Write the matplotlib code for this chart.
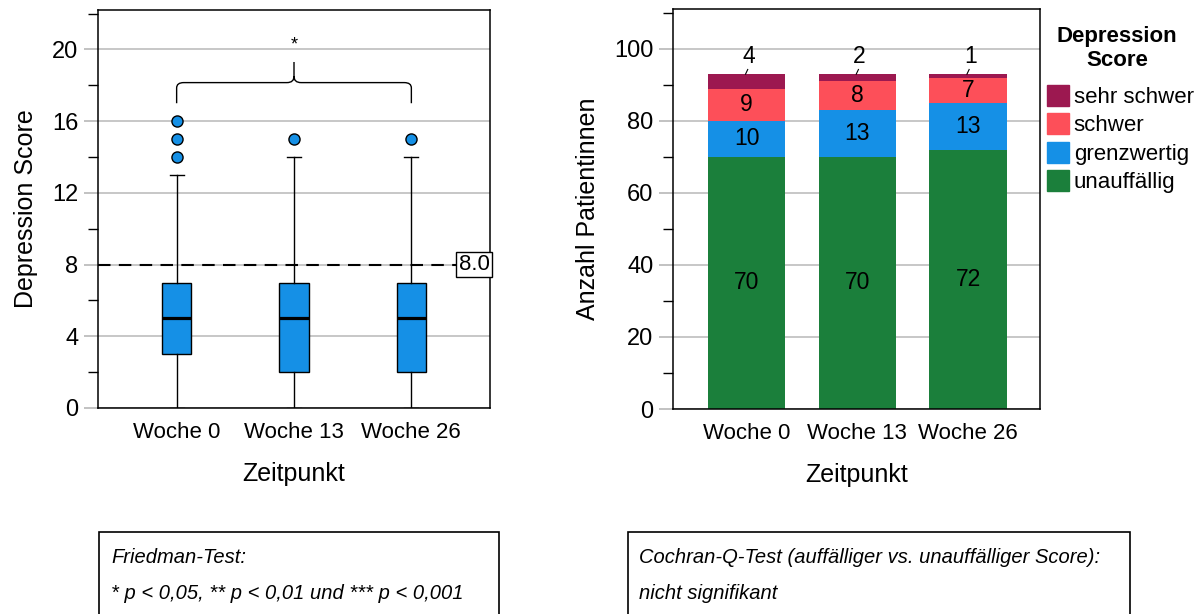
import numpy as np
import matplotlib
matplotlib.use("Agg")
import matplotlib.pyplot as plt
from matplotlib.path import Path
from matplotlib.patches import PathPatch, Rectangle, Patch

plt.rcParams['font.family'] = ['Liberation Sans', 'DejaVu Sans']

# --- data ---
zeitpunkte = ["Woche 0", "Woche 13", "Woche 26"]

# boxplot summary per time point (Depression Score)
q1 = [3, 2, 2]
median = [5, 5, 5]
q3 = [7, 7, 7]
whisker_lo = [0, 0, 0]
whisker_hi = [13, 14, 14]
ausreisser = [[14, 15, 16], [15], [15]]
cutoff = 8.0

# patient counts per category
kategorien = ["unauffällig", "grenzwertig", "schwer", "sehr schwer"]
unauffaellig = [70, 70, 72]
grenzwertig = [10, 13, 13]
schwer = [9, 8, 7]
sehr_schwer = [4, 2, 1]

farben = ["#1b7f3b", "#1590e6", "#fd4f59", "#9c1850"]
box_farbe = "#1590e6"
grid_farbe = "#bdbdbd"

W, H = 1203, 614
fig = plt.figure(figsize=(W / 100, H / 100), dpi=100)


def style_axis(ax, major, minor):
    ax.set_yticks(major)
    ax.set_yticks(minor, minor=True)
    ax.yaxis.grid(True, which='major', color=grid_farbe, lw=1.2)
    ax.set_axisbelow(True)
    ax.tick_params(axis='y', which='major', length=10, width=1.3,
                   color=grid_farbe, labelsize=17, pad=4)
    ax.tick_params(axis='y', which='minor', length=7, width=1, color='black')
    ax.tick_params(axis='x', length=0, labelsize=16, pad=10)
    for s in ax.spines.values():
        s.set_linewidth(1.1)


# --- left: boxplot ---
ax1 = fig.add_axes([98 / W, 1 - 408 / H, 392 / W, 398 / H])
pos = np.arange(1, 4)
stats = []
for i in range(3):
    stats.append(dict(med=median[i], q1=q1[i], q3=q3[i],
                      whislo=whisker_lo[i], whishi=whisker_hi[i],
                      fliers=ausreisser[i], label=zeitpunkte[i]))
ax1.bxp(stats, positions=pos, widths=0.25, capwidths=0.12, patch_artist=True,
        boxprops=dict(facecolor=box_farbe, edgecolor='black', lw=1),
        medianprops=dict(color='black', lw=2.3),
        whiskerprops=dict(color='black', lw=1),
        capprops=dict(color='black', lw=1),
        flierprops=dict(marker='o', markerfacecolor=box_farbe,
                        markeredgecolor='black', markersize=8, mew=1))
ax1.set_xlim(0.33, 3.67)
ax1.set_ylim(0, 22.2)
style_axis(ax1, np.arange(0, 21, 4), np.arange(2, 23, 4))
ax1.set_xticks(pos)
ax1.set_xticklabels(zeitpunkte)
ax1.set_ylabel("Depression Score", fontsize=18, labelpad=10)
ax1.set_xlabel("Zeitpunkt", fontsize=18, labelpad=14)

# cut-off line with value box
ax1.plot([0.33, 3.4], [cutoff, cutoff], ls=(0, (6, 4)), color='black', lw=1.5)
ax1.text(3.535, cutoff, f"{cutoff:.1f}", fontsize=16, ha='center', va='center',
         bbox=dict(boxstyle='square,pad=0.1', fc='white', ec='black', lw=1))

# brace over the three groups
y0, yb, yt = 17.0, 18.15, 19.3
verts = [(1, y0), (1, yb - 0.3), (1, yb), (1.06, yb), (1.94, yb), (2, yb),
         (2, yb + 0.35), (2, yt),
         (2, yb + 0.35), (2, yb), (2.06, yb), (2.94, yb), (3, yb),
         (3, yb - 0.3), (3, y0)]
codes = [Path.MOVETO, Path.LINETO, Path.CURVE3, Path.CURVE3, Path.LINETO,
         Path.CURVE3, Path.CURVE3, Path.LINETO,
         Path.MOVETO, Path.CURVE3, Path.CURVE3, Path.LINETO, Path.CURVE3,
         Path.CURVE3, Path.LINETO]
ax1.add_patch(PathPatch(Path(verts, codes), fc='none', ec='black', lw=1))
ax1.text(2, 19.75, "*", fontsize=13, ha='center', va='bottom')

# --- right: stacked bars ---
ax2 = fig.add_axes([673 / W, 1 - 409 / H, 367 / W, 400 / H])
serien = [unauffaellig, grenzwertig, schwer, sehr_schwer]
unten = np.zeros(3)
for name, werte, farbe in zip(kategorien, serien, farben):
    werte = np.array(werte, dtype=float)
    ax2.bar(pos, werte, bottom=unten, width=0.7, color=farbe, label=name)
    if name != "sehr schwer":
        for x, b, v in zip(pos, unten, werte):
            ax2.text(x, b + v / 2, f"{int(v)}", fontsize=16.5, ha='center', va='center')
    else:
        for x, b, v in zip(pos, unten, werte):
            top = b + v
            ax2.plot([x - 0.01, x + 0.01], [top, top + 1.3], color='black', lw=0.8)
            ax2.text(x + 0.02, top + 1.6, f"{int(v)}", fontsize=16.5,
                     ha='center', va='bottom')
    unten += werte
ax2.set_xlim(0.335, 3.65)
ax2.set_ylim(0, 111.1)
style_axis(ax2, np.arange(0, 101, 20), np.arange(10, 111, 20))
ax2.set_xticks(pos)
ax2.set_xticklabels(zeitpunkte)
ax2.set_ylabel("Anzahl Patientinnen", fontsize=18, labelpad=10)
ax2.set_xlabel("Zeitpunkt", fontsize=18, labelpad=14)

# legend: title as its own centred text, entries below
fig.text(1117 / W, 1 - 48.5 / H, "Depression\nScore", fontsize=16, weight='bold',
         ha='center', va='center', multialignment='center', linespacing=1.15)
handles = [Patch(color=c) for c in farben][::-1]
ax2.legend(handles, kategorien[::-1],
           loc='upper left', bbox_to_anchor=(1047 / W, 1 - 85 / H),
           bbox_transform=fig.transFigure, frameon=False, fontsize=16,
           handlelength=1.0, handleheight=1.05, handletextpad=0.2,
           labelspacing=0.25, borderaxespad=0, borderpad=0)

# --- test notes below the charts ---
notiz_font = dict(fontsize=14.5, style='italic')
fig.add_artist(Rectangle((99 / W, -0.2), 400 / W, 0.2 + 1 - 532 / H,
                         transform=fig.transFigure, fc='none', ec='black', lw=1.2))
fig.text(111 / W, 1 - 563 / H, "Friedman-Test:", va='baseline', **notiz_font)
fig.text(111 / W, 1 - 599 / H, "* p < 0,05, ** p < 0,01 und *** p < 0,001",
         va='baseline', **notiz_font)
fig.add_artist(Rectangle((628 / W, -0.2), 502 / W, 0.2 + 1 - 532 / H,
                         transform=fig.transFigure, fc='none', ec='black', lw=1.2))
fig.text(639 / W, 1 - 563 / H, "Cochran-Q-Test (auffälliger vs. unauffälliger Score):",
         va='baseline', **notiz_font)
fig.text(639 / W, 1 - 599 / H, "nicht signifikant", va='baseline', **notiz_font)

fig.savefig("out.png", dpi=100)
